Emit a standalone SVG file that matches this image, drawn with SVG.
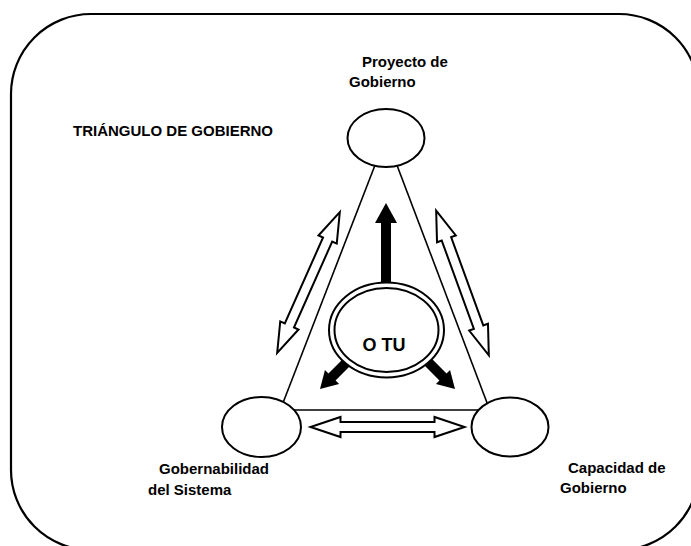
<svg xmlns="http://www.w3.org/2000/svg" width="691" height="546" viewBox="0 0 691 546">
<style>
.lbl{font-family:"Liberation Sans",Arial,sans-serif;font-weight:bold;font-size:15px;fill:#000}
.big{font-size:18px}
.node{fill:#fff;stroke:#000;stroke-width:2}
.edge{stroke:#000;stroke-width:1.6;fill:none}
.hollow{fill:#fff;stroke:#000;stroke-width:2;stroke-linejoin:miter}
.solid{fill:#000;stroke:none}
</style>
<defs>
<path id="dbl" d="M0,-77 L10,-47 L5,-47 L5,47 L10,47 L0,77 L-10,47 L-5,47 L-5,-47 L-10,-47 Z"/>
</defs>
<rect x="11" y="14" width="688" height="536" rx="80" ry="80" fill="#fff" stroke="#000" stroke-width="2.2"/>
<text class="lbl" x="73" y="136">TRIÁNGULO DE GOBIERNO</text>
<g id="connectors">
<line class="edge" x1="377" y1="160" x2="281" y2="408"/>
<line class="edge" x1="395" y1="160" x2="489" y2="408"/>
<line class="edge" x1="285" y1="410" x2="485" y2="410"/>
<use href="#dbl" class="hollow" transform="translate(308.5,282.5) rotate(24)"/>
<use href="#dbl" class="hollow" transform="translate(462.5,283) rotate(-20)"/>
<use href="#dbl" class="hollow" transform="translate(387.5,427) rotate(90)"/>
<path class="solid" d="M386,203 L397,223 L391,223 L391,292 L381,292 L381,223 L375,223 Z"/>
<path class="solid" transform="translate(320,389) rotate(-135)" d="M0,0 L10,17 L5,17 L5,42 L-5,42 L-5,17 L-10,17 Z"/>
<path class="solid" transform="translate(455,389) rotate(135)" d="M0,0 L10,17 L5,17 L5,42 L-5,42 L-5,17 L-10,17 Z"/>
</g>
<g id="node-proyecto">
<ellipse class="node" cx="386" cy="138" rx="38.5" ry="29"/>
<text class="lbl" x="362" y="67">Proyecto de</text>
<text class="lbl" x="349" y="87">Gobierno</text>
</g>
<g id="node-gobernabilidad">
<ellipse class="node" cx="261.5" cy="427" rx="39.5" ry="30"/>
<text class="lbl" x="159" y="474">Gobernabilidad</text>
<text class="lbl" x="148" y="495">del Sistema</text>
</g>
<g id="node-capacidad">
<ellipse class="node" cx="510" cy="427" rx="38.5" ry="29.5"/>
<text class="lbl" x="568" y="473">Capacidad de</text>
<text class="lbl" x="560" y="493">Gobierno</text>
</g>
<g id="node-otu">
<ellipse class="node" cx="386.5" cy="330" rx="57.5" ry="47.5"/>
<ellipse class="node" cx="386.5" cy="330" rx="52" ry="42"/>
<text class="lbl big" x="384" y="351" text-anchor="middle">O TU</text>
</g>
</svg>
